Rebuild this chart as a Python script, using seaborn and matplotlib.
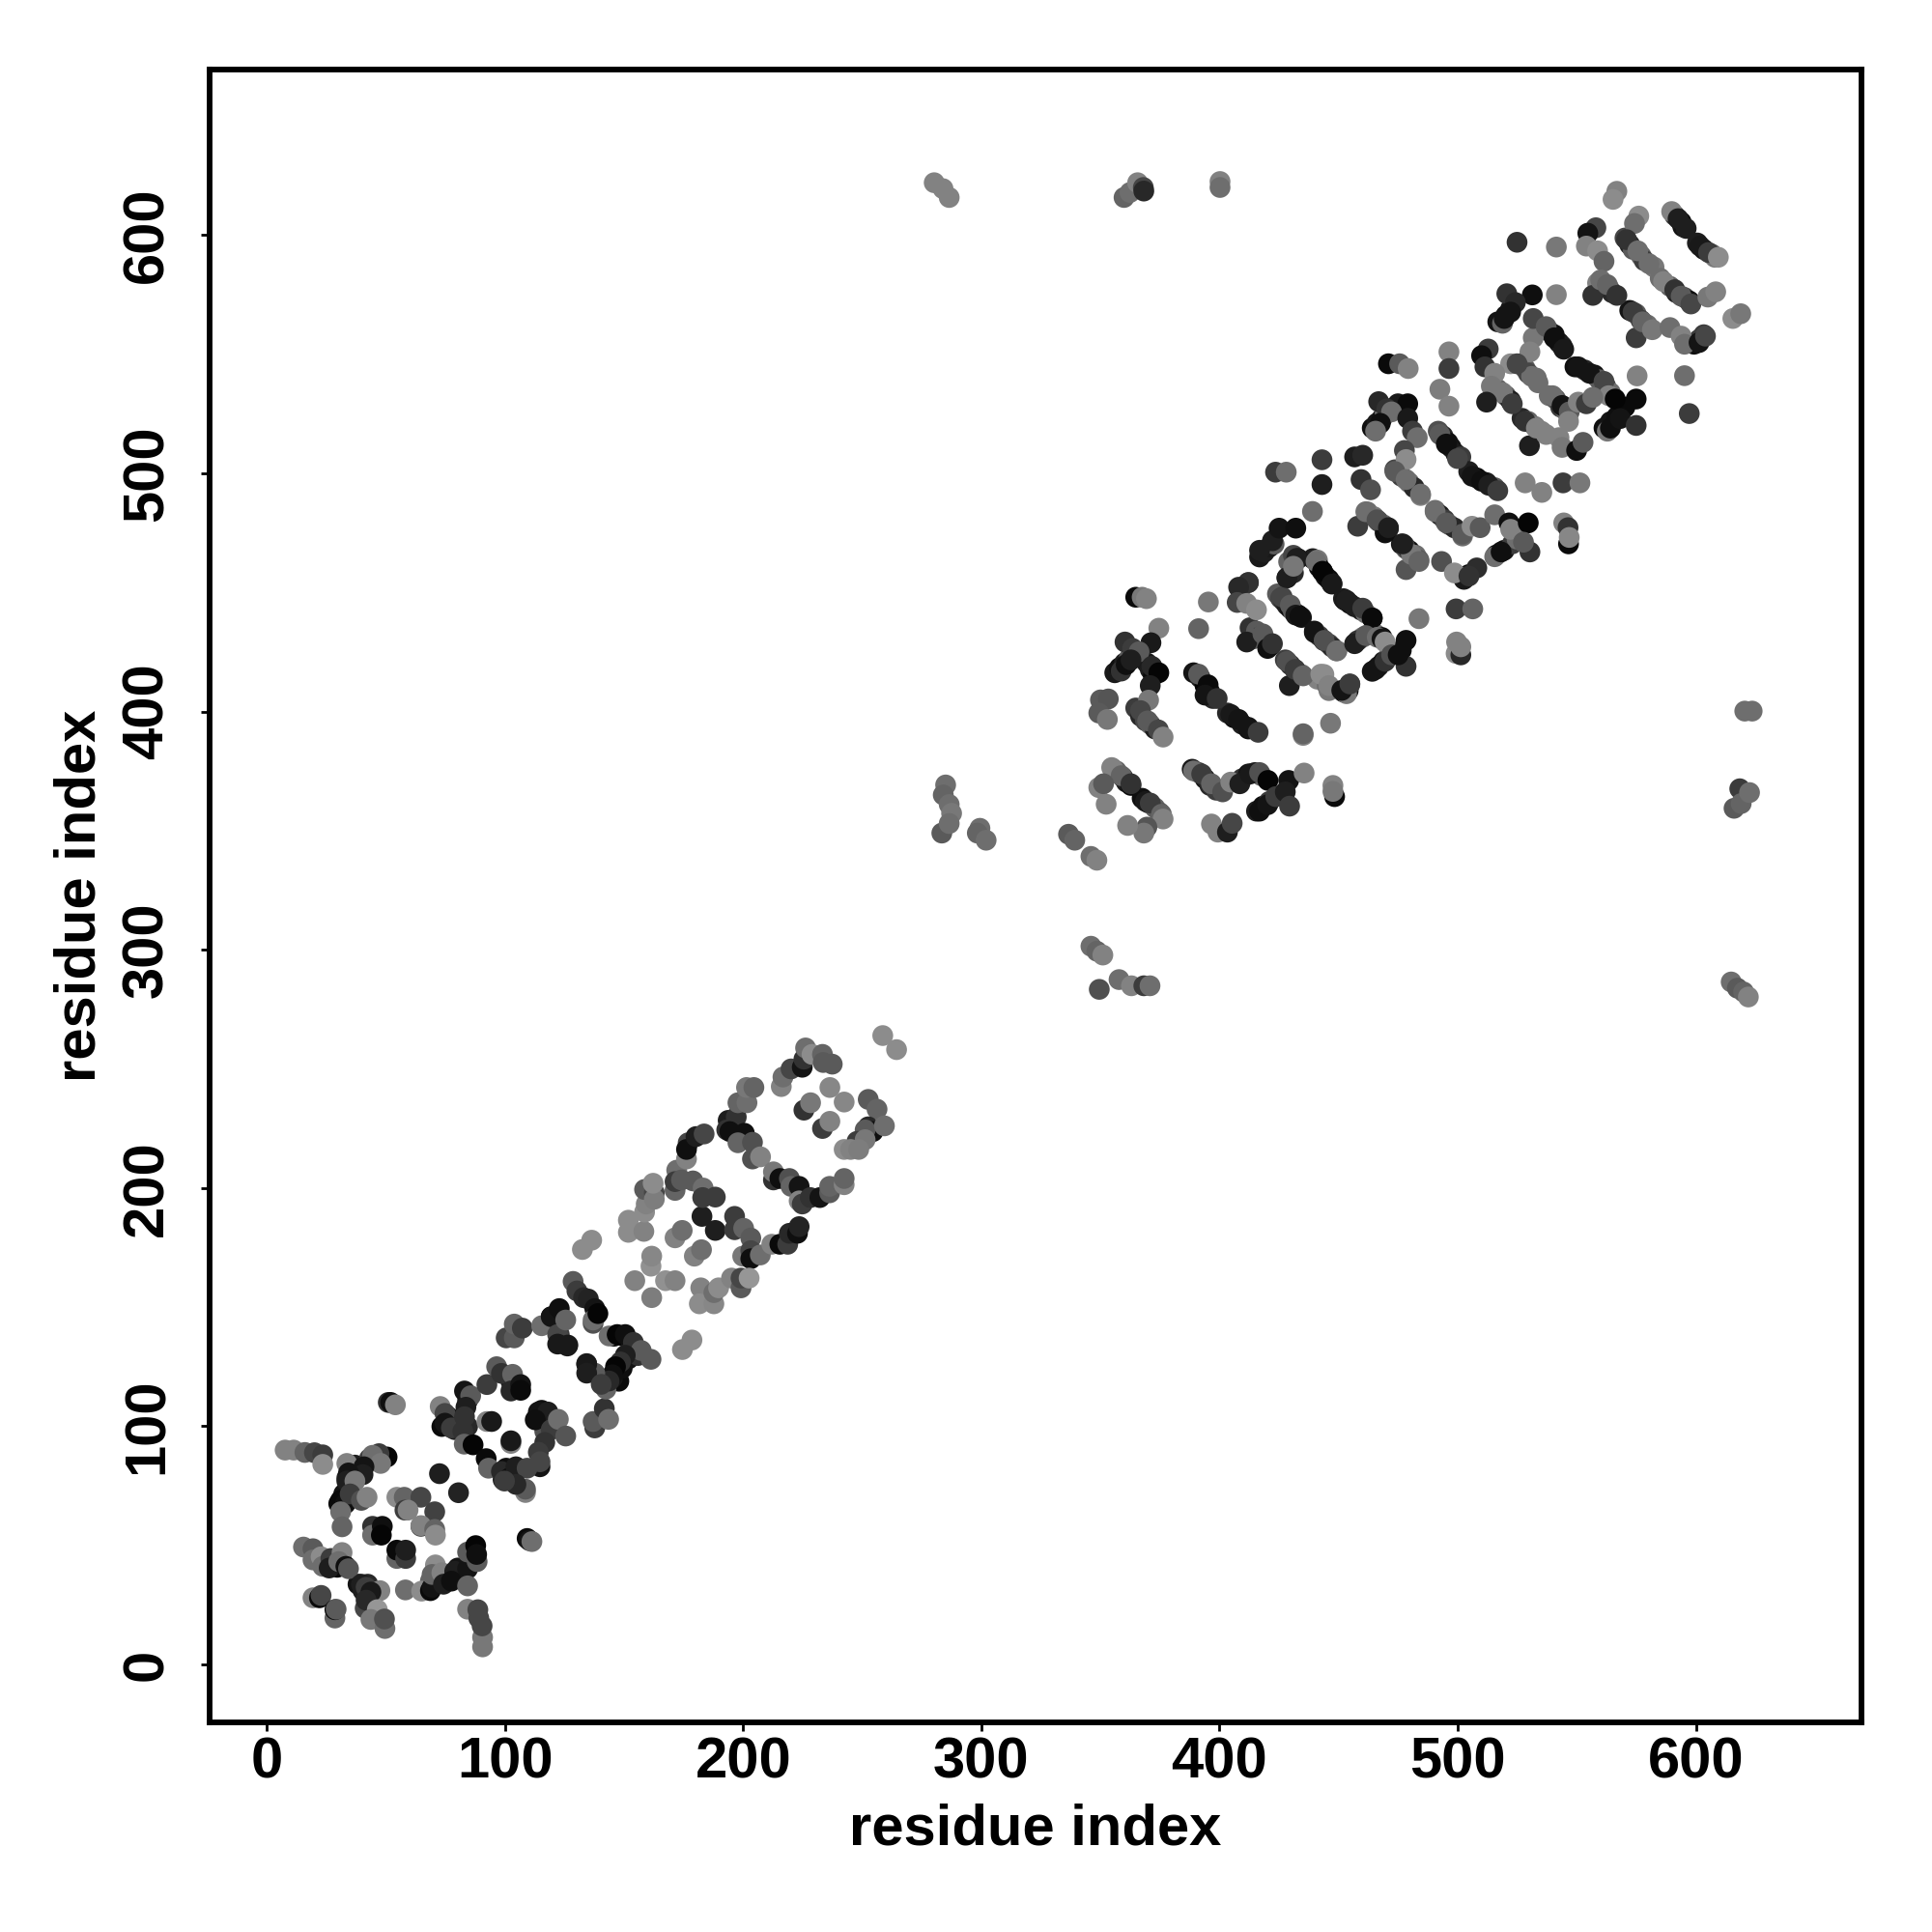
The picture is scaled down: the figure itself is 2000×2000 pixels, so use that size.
import pandas as pd
import seaborn as sns
import matplotlib.pyplot as plt

# (residue i, residue j, grey level), region by region
start_row = [(7.7,90,130),(11.3,90,130),(16,89,100),(20,88.9,70),(23.5,88,60),(23.5,84,140),
             (51,110,50),(52,110,15),(54,109,130)]
first_arm = [(33.6,84.4,130),(50.5,87.1,5),(47.1,88.5,60),(44.4,87.8,110),(47.8,84.4,120),(40.8,83,20),
             (40.4,79.7,30),(34.3,80.4,20),(33.6,77,30),(37,77,120),(31,68.9,10),(33,67.5,15),
             (35,71.6,60),(39.7,68.9,80),(42.1,70.2,130),(31,64.1,110),(31.6,57.8,100)]
first_core = [(54.6,70.2,140),(57.7,70.2,100),(64.7,70.2,70),(58,64.8,60),(59.3,64.8,130),(70.5,64.1,65),
              (64.7,58,60),(64.7,58.3,130),(70.5,56.7,100),(70.8,54.3,140),(44.4,58,50),(44.4,54.3,110),
              (48.5,58,15),(48.1,54.3,5),(54.6,44.5,100),(54.6,48,10),(58.3,44.5,60),(58.3,48,30),
              (72.5,80.1,30),(80.5,72.1,35)]
low_left = [(15.4,49.3,110),(19.4,48.6,90),(19.4,43.9,110),(22.8,45.2,140),(23.5,41.2,110),(26.9,44.5,60),
            (26.2,40.5,30),(31.6,47,130),(30.2,43.2,110),(33.2,41.2,15),(34.3,40.2,85),(19.4,28,130),
            (22.1,28,10),(22.8,29,70),(28.6,19.5,100),(28.6,23,10),(29.1,23.2,90),(39.7,33.7,30),
            (41.7,32.4,60),(47.5,31,130),(43.7,30.4,25),(41.3,23.6,70),(41.7,27,40),(46.4,23,150),
            (43.7,18.9,120),(49.6,15.1,110),(49.4,19.1,80)]
low_right = [(58.2,31.3,110),(65,30.8,140),(68.7,31,10),(69.4,32.4,20),(70.8,41.8,140),(69.4,37.8,100),
             (73.5,38.5,130),(74.2,33.7,30),(78.9,39.1,30),(84.3,40.2,20),(77.5,35,15),(84.3,33,100),
             (84.3,47.2,90),(87.7,49.9,5),(88.3,43.2,90),(88.1,46.2,15),(84.3,23.2,130),(90.6,7.4,120),
             (90.6,11.4,120),(88.6,23,70),(89,19.5,70),(90.4,16.2,70),(109.3,52.9,10),(110.3,52,20),
             (111.3,51.6,110)]
diamond = [(72.8,108.3,130),(74.8,105.4,70),(74.8,101.3,20),(77.5,99.3,60),(83,114.8,20),(85.6,112.8,90),
           (83.6,108,30),(83,104,50),(82.3,97.9,50),(82.9,92.5,100),(86.6,92.2,5),(92.1,86.4,10),
           (93.1,82.4,100),(92.4,102,130),(94.4,102,25),(102.5,92.8,130),(102.5,93.9,25),(96.5,125,90),
           (92.4,117.5,60),(98.5,122.2,50),(103.2,121.8,100),(102.5,114.8,40),(106.6,117.5,20),(106.6,115.1,10),
           (114,106,20),(118,106,30),(112.7,102.7,15),(119.4,98.6,60),(122.4,102.9,110),(125.5,95.9,85),
           (116.7,93.2,50),(114.7,83,20),(114,89.1,60),(114.7,85.1,70),(98.5,81,40),(101.9,78.3,15),
           (104.6,83,30),(109.3,82.4,70),(108.6,72.2,130),(108.6,73.6,90),(104.6,75.6,40),(99.8,77,60),
           (137.7,99.3,60),(137,102,90),(141.7,107.4,50),(143.5,102.9,110),(100.5,137.1,70),(103.9,137.1,90),
           (103.9,142.9,100),(107.3,141.2,60)]
second_arm = [(115.4,142.2,110),(119.4,146,20),(122.8,149.4,15),(122.1,138.5,70),(122.1,134.5,25),(126.4,134.1,25),
              (125.5,144.6,100),(128.6,160.8,90),(130.2,156.8,60),(133,154,40),(135,153.4,35),(137.7,149.4,20),
              (137,144.6,110),(139,147.3,5),(143.7,137.9,110),(147.1,138.5,5),(150.5,138.5,15),(153.9,135.2,50),
              (157.2,131.8,90),(161.3,128.1,90),(150.5,129.8,30),(148.5,127,50),(146.4,125,5),(145.1,121.6,15),
              (142.4,115.6,100),(143.7,119,40),(137.7,122.3,90),(134.3,126,25),(134.3,122.3,30),(140.4,117.6,60),
              (174.5,132.2,140),(178.5,136.2,140),(132.5,174.2,140),(136.4,178.1,140)]
middle = [(154.5,161.1,130),(161.3,167.2,145),(161.6,171.4,135),(161.6,154,125),(167.4,161.1,145),(171.4,161.1,130),
          (171.4,179.1,130),(174.4,182.2,110),(179.5,171.4,130),(182.5,174.1,110),(182.7,188.1,30),(188.3,182.2,30),
          (151.8,181.4,140),(151.8,186.5,140),(158.3,181.8,130),(158.6,189.9,140),(159.3,193.3,130),(158.6,199.4,90),
          (162.7,198,70),(162.7,195.3,125),(162.2,202,140),(172.1,207.5,110),(171.4,199,100),(171.4,202.7,60),
          (174.1,203.4,90),(178.9,203,90),(183.2,200,110),(183,196,60),(188.3,196.2,60)]
upper_low = [(176.9,219,70),(176.2,212.2,130),(176.2,216.2,15),(180.2,221.6,30),(183.6,222.7,70),(193.7,228.4,30),
             (197.1,229.8,50),(193.1,224.4,50),(194.4,223.7,15),(200.5,223,15),(197.8,219,100),(203.9,212.2,80),
             (203.9,219.2,80),(207.3,213.1,130),(197.8,235.8,100),(201.6,235.8,110),(201.4,242.2,120),(204.5,242.2,100)]
low_wing = [(196.4,188.1,60),(196.4,182.5,60),(200.2,183.1,100),(203.2,179,90),(199.8,171.4,120),(203.2,173.7,70),
            (203.2,170.3,15),(207.2,171.9,110),(212,176.4,130),(215.4,176.4,10),(218.7,176.4,60),(219.4,181,40),
            (222.8,181,15),(223.5,183.8,35),(182.2,158.1,130),(181.6,151.4,140),(187.7,151.4,135),(187.7,156.1,110),
            (189.7,158.1,140),(195.1,162.2,130),(199.1,158.1,90),(199.1,162.2,70),(202.5,162.2,150)]
tip = [(212.7,203.4,50),(212.7,206.8,120),(215.4,204,15),(219.4,204,80),(220.1,200.7,100),(223.5,200.7,20),
       (223.5,194.6,130),(224.8,193.3,60),(228.2,196,50),(232.2,196,20),(236.3,198,90),(236.3,200.7,100),
       (242.4,201.4,130),(242.4,204,100),(225.5,232.7,50),(228.3,235.8,120),(236.4,242.2,135),(242.4,236.1,135),
       (233.3,225,60),(236.4,228,130),(252.5,237.2,90),(256.2,233.1,100),(252.5,225.7,40),(254.5,223.7,15),
       (251.2,224.4,90),(259.3,226.1,110),(247.8,219.6,60),(251.2,220.3,120),(242.4,216.2,140),(245.1,216.2,130),
       (248.5,216.2,125),(216,242.6,130),(216.7,246.6,110),(220.1,250,70),(224.8,250.7,20),(225.5,254.1,50),
       (226.2,258.8,110),(228.9,256.1,140),(233.3,256.1,100),(233.6,252.7,90),(237.4,252,90),(258.6,264,140),(264.4,258.1,140)]
outliers = [(280.2,622,130),(283.9,619.5,130),(286.5,615.8,130),(359.9,615.8,100),(362.4,617.9,110),(365.6,622,130),
            (368,620,70),(368.2,618.5,40),(400.2,622.5,130),(400.2,620,110),(620.5,400.2,110),(623.6,400.2,110),
            (618.4,367.6,60),(616,359.4,90),(619,361.4,100),(622.5,366,110),(614.8,286.5,110),(617.4,283.9,90),
            (620,282.3,100),(622,280.2,130),(285,369.2,110),(284,365,100),(286.5,361,110),(287.5,357.3,120),
            (283.4,349,90),(286.5,353,110),(299.4,351,110),(298.3,349,100),(302,346,110),(336.6,348.5,90),
            (339.2,346,100),(346,339.2,110),(348.5,337.6,130),(346,301.5,110),(348.5,299.4,100),(351,297.8,130),
            (349.5,283.4,80),(357.8,287.5,110),(363,284.9,130),(368.2,284.9,60),(370.8,284.9,110)]
third_left = [(364.8,448,10),(367.5,448,120),(369.3,447.4,130),(374.5,435,130),(395.3,446,120),(391.2,434.8,100),
              (360.3,429.2,50),(371.2,428.9,25),(363.5,426.5,60),(366.2,425.1,90),(358.7,417,50),(360.8,419.7,15),
              (362.8,421.7,30),(371.6,419,40),(374.5,416.3,5),(370.9,410.9,30),(370.2,404.8,120),(350,404.9,90),
              (353.3,405.3,85),(349.3,399.4,90),(352.9,396.7,120),(366.8,400.4,70),(369.8,396.1,90),(374.3,392.3,70),
              (376.3,389.3,130),(391.2,415.7,90),(395.2,411.2,10),(393.9,406.9,20),(399,405.5,50),(404.7,398.8,25),
              (408,396.7,20),(412.1,393.4,20),(416.2,391.3,60),(435.1,390,130),(435.1,390.7,100),(446.6,395.1,120)]
third_low = [(355.3,375.8,130),(358.7,373.1,100),(362.8,369.7,50),(349.3,368.1,130),(351.3,369.7,90),(352.4,361.1,130),
             (368.9,362.3,25),(370.9,361.6,60),(375.6,356.9,100),(376.3,354.9,130),(369.5,351.5,85),(368.2,349,120),
             (361.4,352.2,130),(389.1,375.1,110),(392.5,373.8,60),(396.6,369.7,100),(401.3,366.3,80),(404.7,370.4,130),
             (408.5,369.7,30),(412.8,373.8,25),(416.8,374.4,80),(420.3,371.1,5),(429,371.1,20),(435.5,374.2,130),
             (448.3,364.3,10),(447.6,369,130),(447.6,366.5,120),(416.8,358.2,15),(420.2,360.9,20),(423.6,364.3,60),
             (427.6,366.3,30),(429.4,360.3,60),(396.6,352.8,130),(399.3,349.4,130),(403.3,349.4,30),(405.3,353.1,70)]
third_mid = [(412.1,454.2,50),(408,452.2,40),(407.4,445.8,70),(411.4,445.4,130),(415.5,442.7,140),(414.1,430.5,90),
             (411.4,429.2,30),(418.2,432.6,90),(420.2,426.5,15),(422.2,428.5,50),(426.3,448.1,70),(429.7,444.7,90),
             (432,440.5,25),(433.7,440,15),(439.8,433.2,20),(443.9,429.9,80),(449.3,425.5,110),(428.3,421.1,80),
             (429.3,410.9,30),(431.7,417.7,60),(435.1,415,100),(442.5,415.7,140),(445.9,410.9,130),(451.3,408.9,20),
             (454.7,411.6,60),(453.3,446.7,30),(460.1,443.4,60),(464.1,439.3,10),(456.7,428.5,30),(461.4,431.9,90),
             (466.2,431.2,110),(468.2,430.5,20),(469.5,429.2,140),(478.3,429.9,15),(478.3,419,50),(465.5,417.7,20),
             (469.5,421.1,50),(472.2,423.8,80),(475,423.8,15),(483.7,439,120),(499.3,443.1,60),(506.3,443.1,100),
             (499.3,424.4,140),(501.3,423.8,40),(499.5,429.2,130),(501.3,427.2,130),(493.2,463,80),(498.6,458.2,140),
             (508,460.3,45),(504.7,456.9,50),(477.6,469.7,60),(478.3,459.6,85),(480.5,466,120),(483.7,463,100),
             (416.8,467.7,30),(422.2,471.7,30),(432.4,464.3,30),(428.3,456.2,30),(431,461,120),(440.5,463,110),
             (443.2,458.9,5),(447.2,453.5,25),(469.5,475,15),(423.5,500.5,60),(428,500.5,110),(443,505.7,60),
             (443,495.3,30),(439,484,110),(425,477,20),(432,477,15)]
top_right = [(566.8,618.4,130),(565.2,615,140),(576,608,140),(574.2,604.9,110),(558,603.1,70),(554.6,600.8,20),
             (554,595.4,130),(558.7,593.4,140),(561.4,589,100),(589.8,609.9,130),(592.5,606.9,30),(595.9,602.8,30),
             (601.7,595.4,25),(605.3,592.7,60),(609.4,590.7,140),(570.9,598.1,50),(575.6,593.4,110),(580.3,588,110),
             (586.4,580.5,130),(591.1,577.1,50),(593.8,574.4,90),(597.9,571.1,70),(605,574,120),(608.3,576.2,130),
             (615.5,565,140),(618.8,567,120),(556.7,574.7,50),(560,581.2,110),(562.8,579.2,100),(566.8,574.7,50),
             (574.9,556.9,60),(573.6,567.7,60),(577.6,563.6,100),(581.7,560.3,120),(589.1,561.2,110),(593.8,557.6,130),
             (595.2,554.2,110),(601.3,554.9,20),(604,557.6,70)]
fourth_up = [(524.9,597,50),(541.4,595,120),(520.6,575.4,50),(531.3,574.9,15),(524.2,571.7,40),(518.8,563,100),
             (519.5,565,20),(522.2,567.7,20),(541.4,575,130),(531.7,556.9,120),(530.3,551,130),(531.7,565,70),
             (537.1,561.6,90),(540.5,556.9,15),(544.5,552.1,25),(550.6,544.7,20),(555.3,542,20),(561.4,538.6,70),
             (563.4,532.6,130),(566.1,531.2,5),(574.9,531.2,10),(575.3,540.9,130),(595.2,541,110),(597.2,525.1,60),
             (562.8,517.7,120),(564.1,519,15),(568.2,523,20),(574.9,520.1,50),(539.8,532.6,110),(543.8,528.5,20),
             (546.8,525.8,90),(546.5,521.8,130),(550.6,529.9,130),(554,529.2,60),(556.7,531.9,110),(522.2,546,140),
             (524.9,546,70),(533,540,110),(530.1,511.6,30),(528.3,521.8,50),(533,519,130),(537.1,516.3,130),
             (542.5,515,130),(543.8,510.9,120),(549.9,509.6,15),(552.6,513,90)]
fourth_mid = [(512.8,552.2,60),(510,549.4,15),(511.4,544.7,50),(515.5,542,130),(514.1,536.6,120),(518.8,533.9,120),
              (512.1,529.9,30),(522.9,529.2,60),(496.3,551,130),(496.3,544,60),(470.9,546,10),(475.6,546,90),
              (479.2,544,130),(492.5,535.3,125),(496.3,528.2,130),(466.8,530.1,40),(479,529.2,10),(470.2,527.1,50),
              (472.2,525.8,110),(467.5,521,15),(465.5,517.7,110),(479,523.1,25),(481,517.7,60),(483,515,110),
              (477.6,509.6,70),(478.3,505.8,140),(492.5,516.3,90),(495.2,512.3,15),(499.9,506.2,70),(506,498.8,20),
              (510,496.7,15),(513,495,30),(516.8,492.7,60),(528.3,496,130),(535.3,492,130),(544.2,496,60),
              (551.3,496,120),(456.7,506.9,30),(460.1,507.6,40),(459.4,497.4,50),(463.4,493.1,80),(473.6,500.8,90),
              (478.3,497.4,110),(484.4,491.3,110),(458,477.8,60),(461.4,483.9,110),(466.1,480.5,80),(470.9,477.2,30),
              (490.5,483.9,110),(495.2,479.2,90),(501.9,474.5,90),(506,477.8,140),(509.4,477.2,90),(515.5,482.6,110),
              (521.5,479.2,15),(522.2,476.5,130),(529.6,479.2,5),(515.5,465,110),(518.2,467,15),(530.3,467,50),
              (527.6,471.1,90),(544.5,479.2,130),(546.3,477.2,50),(546.5,470.4,10),(546.8,473.1,135),(476.9,470.4,30)]

# extra contacts that pack the stripes, drawn underneath the ones above
stripes_low = [(30.2,67.5,10),(32.3,71.6,20),(33.6,78.3,40),(35.6,75.6,20),(37,83.7,30),(43.1,86.4,60),(46.4,87.8,15),
               (68.1,32.4,10),(72.1,35.1,20),(75.5,36.4,15),(80.2,40.5,20),(68.7,35.1,100),(76.2,104,25),(78.9,98.6,30),
               (73.5,99.9,10),(84.3,110.8,30),(84.3,99.9,40),(102.5,118.9,30),(100.5,82.4,15),(103.2,79.7,20),(99.2,77.6,30),
               (115.4,106.7,15),(116.7,104,30),(119.4,101.3,60),(116.7,97.9,80),(145.8,137.8,15),(149.8,137.8,10),
               (153.2,133.7,30),(147.8,118.9,10),(145.1,120.2,20),(149.2,124.3,15),(151.9,128.3,20),(155.9,129.7,50),
               (134.3,126.3,30),(119.4,145.9,15),(122.1,147.2,20),(138.3,146.6,10),(137,143.2,80),(122.8,138.5,60),
               (126.2,133.7,25),(38.3,33.7,20),(40.4,31,30),(42.4,33.7,40),(26.9,43.2,20),(29.6,40.8,10),(31.6,43.2,15)]
stripes_mid = [(424.3,449.4,90),(425.6,447.6,70),(427,446.3,50),(428.3,444.6,30),(429.7,443.3,15),(431,442,100),(433,440.6,15),
               (434.4,439.5,20),(439.1,464.2,30),(441.1,463.6,120),(441.8,460.6,15),(443.2,458.8,10),(444.5,456.8,20),
               (445.9,455.5,10),(447.2,453.8,25),(452,447.4,30),(452.6,446.7,25),(454.7,445.3,15),(456.7,444,30),
               (459.4,442.6,30),(461.4,441.3,110),(464.1,439.2,10),(439.8,433.8,20),(441.8,431.8,60),(443.8,429.8,20),
               (445.9,428.4,70),(447.2,427.1,40),(449,425.5,110),(427.6,421.7,60),(429.7,419.6,50),(431.7,417.6,40),
               (434.4,415.6,110),(412.8,435.2,50),(415.5,433.8,90),(417.5,431.8,30),(419.5,429.8,100),(421.6,427.8,50),
               (462.1,483.8,110),(464.8,481.8,120),(466.8,479.8,60),(468.8,478.4,100),(470.9,476.8,30),(476.3,470.3,25),
               (478.3,468.3,90),(479.7,467.6,15),(481,465.6,130),(482.4,465.6,110),(483.7,463.6,90),(490.5,484.5,110),
               (492.5,482.5,25),(494.5,480.5,60),(496.5,478.4,90),(498.6,477.1,40),(502,473.7,110),(416.8,464.9,25),
               (418.8,466.9,30),(420.9,469,25),(422.9,470.3,90),(464.1,416.9,20),(466.8,419,25),(468.8,421,15),(470.9,423,110),
               (473.6,424.4,30),(476.3,425.7,15),(452,408.2,15),(454,408.8,15),(454.7,411.5,60),(453.3,407.5,120),
               (408.7,451.4,40),(412.1,454.1,70),(429,462.9,100),(431,465.6,70),(433,464.2,25),(428.3,456.1,25),(431,458.2,40),
               (441.1,413.6,130),(443.8,415.6,140),(445.2,410.9,110),(445.9,408.8,120),(460,431.1,130),(462.8,432.5,90),
               (465.5,432.5,110),(468.2,431.1,15),(458,429.8,50)]
stripes_high = [(570.2,598.8,70),(572.2,596,30),(573.6,594,90),(577,591.3,100),(578.3,589.3,60),(582.4,586.6,120),
                (585,581.9,110),(589.1,578.5,100),(591.8,575.8,30),(595.2,573.8,70),(597.2,572.4,15),(591.1,608.2,60),
                (593.8,605.5,10),(594.5,603.5,20),(600.6,596.7,30),(603.3,594,20),(606.7,592,90),(608,590.7,120),
                (558.7,579.9,130),(560.7,578.5,60),(563.4,577.8,110),(564.8,575.8,40),(572.2,568.4,20),(574.9,567,90),
                (576.9,564.3,60),(579.6,562.3,110),(538.4,559.6,30),(540.5,558.2,15),(542.5,554.9,20),(543.8,553.5,30),
                (549.2,544.7,15),(553.3,543.4,40),(557.4,541.3,20),(559.4,539.3,90),(562.1,536.6,60),(564.1,533.9,110),
                (526.3,546,40),(528.3,544,90),(529.6,542,70),(531,540.7,110),(533.7,538,110),(538.4,532.6,110),(541.1,531.2,90),
                (543.2,527.8,60),(545.2,526.5,100),(527,523.1,40),(529.6,521.8,100),(532.4,519.7,120),(535.1,517.7,130),
                (516.8,535.3,100),(520.2,532.6,90),(522.2,530.5,30),(491.8,517.7,80),(493.8,515.7,40),(495.9,512.9,15),
                (497.2,510.9,20),(499.2,508.2,25),(501.3,506.9,60),(504.6,500.8,30),(508,498.1,10),(512.1,496.1,30),
                (515.5,494,90),(473.6,501.5,70),(476.3,498.8,60),(479.6,496.1,110),(481.7,494,40),(484.4,490.7,130),
                (464.1,519,15),(466.1,521.1,25),(468.2,523.1,20),(469.5,525.1,110),(470.9,527.1,60),(474.9,529.2,25),
                (516.8,563.6,20),(520.2,566.3,15),(522.2,569,25),(561.4,519,15),(564.1,521.7,20),(566.8,523.8,15),(570.2,527.8,10),
                (516.1,465.7,15),(519.5,467.7,20),(522.9,470.4,60),(524.9,472.4,110),(599.2,554.2,15),(601.3,556.2,60),
                (603.3,558.2,60),(502.6,455.5,25),(504.6,457.5,15)]
stripes_left = [(364.8,401.5,60),(366.8,398.1,40),(368.9,396.1,70),(370.9,394.7,100),(372.9,392.7,30),(389.1,416.3,20),(391.8,414.3,30),
                (393.9,410.9,5),(395.9,408.2,15),(397.2,405.5,40),(403.3,399.4,40),(406,397.4,15),(409.4,394.7,30),(412.1,392.7,15),
                (354.7,376.5,130),(356.7,375.1,100),(359.4,372.4,60),(360.8,370.4,30),(362.8,369,10),(388.5,375.8,25),(391.2,374.4,50),
                (393.9,371.8,25),(395.9,369,40),(398.6,367,60),(367.5,363.6,15),(370.2,361.6,40),(372.9,359.6,100),(374.9,357.6,90),
                (409.4,371.8,50),(412.1,373.8,20),(414.8,374.4,30),(417.5,373.1,100),(415.5,358.2,30),(418.2,360.3,15),(420.9,362.3,60),
                (356,416.3,25),(358,418.4,15),(360.1,420.4,30),(362.1,422.4,90),(369.5,420.4,25),(370.9,417.7,30),(372.2,415,10)]

x_ticks = [0, 100, 200, 300, 400, 500, 600]
y_ticks = [0, 100, 200, 300, 400, 500, 600]

regions = [stripes_low, stripes_mid, stripes_high, stripes_left, start_row, first_arm, first_core, low_left, low_right,
           diamond, second_arm, middle, upper_low, low_wing, tip, outliers, third_left, third_low, third_mid, top_right,
           fourth_up, fourth_mid]
rows = [p for region in regions for p in region]
data = pd.DataFrame(rows, columns=['i', 'j', 'grey'])

sns.set_theme(style='white')
plt.rcParams['font.family'] = ['Liberation Sans', 'DejaVu Sans']
plt.rcParams['font.weight'] = 'bold'

fig = plt.figure(figsize=(10, 10), dpi=200)
ax = fig.add_axes([217/2000, 1 - 1783/2000, (1927-217)/2000, (1783-72)/2000])

sns.scatterplot(data=data, x='i', y='j', hue='grey', palette='gray', hue_norm=(0, 255),
                s=60, linewidth=0, legend=False, ax=ax)

ax.set_xlim(-24, 669.5)
ax.set_ylim(-24.3, 669.5)
ax.set_xticks(x_ticks)
ax.set_yticks(y_ticks)
ax.tick_params(axis='both', length=3.2, width=1, color='black', labelsize=21.5, labelcolor='black',
               left=True, bottom=True)
ax.tick_params(axis='x', pad=2)
ax.tick_params(axis='y', pad=10)
for lab in ax.get_yticklabels():
    lab.set_rotation(90)
    lab.set_va('center')
ax.set_xlabel('residue index', fontsize=21.5, fontweight='bold', labelpad=5, color='black')
ax.set_ylabel('residue index', fontsize=21.5, fontweight='bold', labelpad=5.5, color='black')
for s in ax.spines.values():
    s.set_linewidth(2.1)
    s.set_color('black')

fig.savefig('out.png', dpi=200)
